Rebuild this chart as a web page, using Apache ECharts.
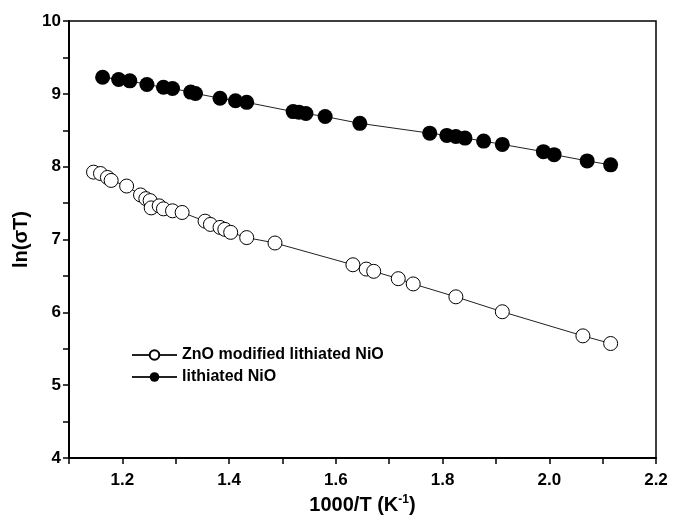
<!DOCTYPE html>
<html>
<head>
<meta charset="utf-8">
<script src="https://cdn.jsdelivr.net/npm/echarts@6/dist/echarts.min.js"></script>
<style>
  html, body { margin: 0; padding: 0; background: #fff; }
  #chart { width: 674px; height: 520px; }
</style>
</head>
<body>
<div id="chart"></div>
<script>
// ZnO modified lithiated NiO (open circles)
var znoX = [1.146, 1.159, 1.172, 1.179, 1.208, 1.234, 1.244, 1.252, 1.254, 1.269, 1.277, 1.294, 1.312,
            1.355, 1.365, 1.383, 1.392, 1.403, 1.433, 1.486, 1.632, 1.657, 1.671, 1.717, 1.745, 1.825,
            1.912, 2.063, 2.115];
var znoY = [7.925, 7.906, 7.852, 7.811, 7.734, 7.612, 7.561, 7.534, 7.434, 7.462, 7.421, 7.394, 7.371,
            7.252, 7.207, 7.166, 7.139, 7.098, 7.026, 6.952, 6.653, 6.594, 6.563, 6.462, 6.390, 6.213,
            6.008, 5.677, 5.572];
// lithiated NiO (filled circles)
var nioX = [1.163, 1.193, 1.214, 1.246, 1.277, 1.294, 1.328, 1.337, 1.383, 1.412, 1.433, 1.520, 1.531,
            1.544, 1.580, 1.645, 1.776, 1.808, 1.825, 1.842, 1.877, 1.912, 1.989, 2.009, 2.071, 2.115];
var nioY = [9.228, 9.196, 9.178, 9.128, 9.090, 9.074, 9.024, 9.005, 8.940, 8.906, 8.883, 8.756, 8.747,
            8.729, 8.688, 8.595, 8.460, 8.429, 8.415, 8.392, 8.351, 8.306, 8.206, 8.165, 8.079, 8.025];

var seriesNames = ['ZnO modified lithiated NiO', 'lithiated NiO'];
// labelled x ticks (every other tick is unlabelled)
var xTickLabels = ['1.2', '1.4', '1.6', '1.8', '2.0', '2.2'];

function pairs(xs, ys) {
  var out = [];
  for (var i = 0; i < xs.length; i++) out.push([xs[i], ys[i]]);
  return out;
}

var Chart = echarts.init(document.getElementById('chart'));
var font = 'Liberation Sans, Arial, sans-serif';
var tickStyle = { color: '#000', width: 1.5 };

var options = {
  animation: false,
  backgroundColor: '#fff',
  grid: {
    left: 69, right: 18, top: 21, bottom: 59,
    show: true, borderColor: '#000', borderWidth: 1.5
  },
  legend: {
    orient: 'vertical',
    left: 126, top: 342,
    itemWidth: 45, itemHeight: 12, itemGap: 6,
    data: seriesNames,
    textStyle: { fontFamily: font, fontWeight: 'bold', fontSize: 16, color: '#000' }
  },
  xAxis: {
    type: 'value',
    min: 1.1, max: 2.2, interval: 0.1,
    name: '1000/T (K{sup|-1})',
    nameLocation: 'middle',
    nameGap: 36,
    nameTextStyle: {
      fontFamily: font, fontWeight: 'bold', fontSize: 20, color: '#000',
      rich: { sup: { fontFamily: font, fontWeight: 'bold', fontSize: 12, verticalAlign: 'top', padding: [0, 0, 10, 0] } }
    },
    axisLine: { onZero: false, lineStyle: { color: '#000', width: 2 } },
    axisTick: { length: 6, lineStyle: tickStyle },
    axisLabel: {
      fontFamily: font, fontWeight: 'bold', fontSize: 17, color: '#000', margin: 14,
      formatter: function (v) {
        var s = v.toFixed(1);
        return xTickLabels.indexOf(s) >= 0 ? s : '';
      }
    },
    splitLine: { show: false }
  },
  yAxis: {
    type: 'value',
    min: 4, max: 10, interval: 1,
    name: 'ln(σT)',
    nameLocation: 'middle',
    nameGap: 38,
    nameTextStyle: { fontFamily: font, fontWeight: 'bold', fontSize: 20, color: '#000' },
    axisLine: { show: true, onZero: false, lineStyle: { color: '#000', width: 2 } },
    axisTick: { show: true, length: 6, lineStyle: tickStyle },
    minorTick: { show: true, splitNumber: 2, length: 6, lineStyle: tickStyle },
    axisLabel: { fontFamily: font, fontWeight: 'bold', fontSize: 17, color: '#000', margin: 8 },
    splitLine: { show: false }
  },
  series: [
    {
      name: seriesNames[0],
      type: 'line',
      data: pairs(znoX, znoY),
      symbol: 'circle',
      symbolSize: 14,
      lineStyle: { color: '#222', width: 1 },
      itemStyle: { color: '#fff', borderColor: '#000', borderWidth: 1 },
      z: 3
    },
    {
      name: seriesNames[1],
      type: 'line',
      data: pairs(nioX, nioY),
      symbol: 'circle',
      symbolSize: 15,
      lineStyle: { color: '#222', width: 1 },
      itemStyle: { color: '#000', borderColor: '#000', borderWidth: 0 },
      z: 3
    }
  ]
};

Chart.setOption(options);
</script>
</body>
</html>
